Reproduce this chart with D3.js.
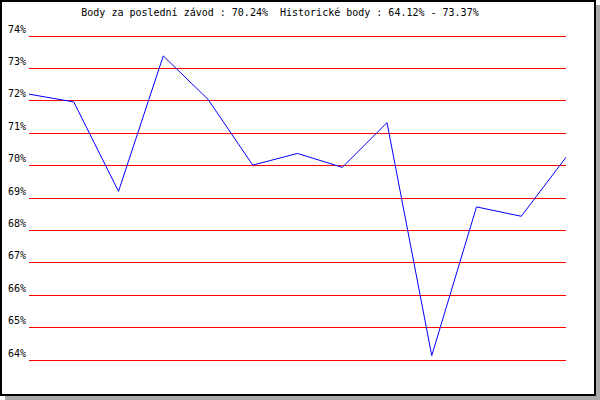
<!DOCTYPE html>
<html>
<head>
<meta charset="utf-8">
<script src="https://cdn.jsdelivr.net/npm/d3@7"></script>
<style>
  body { margin: 0; background: #fff; }
  text { font-family: "DejaVu Sans Mono", monospace; font-size: 10px; fill: #000; }
</style>
</head>
<body>
<div id="chart"></div>
<script>
// values
var races = [1, 2, 3, 4, 5, 6, 7, 8, 9, 10, 11, 12, 13];
var points = [72.19, 71.95, 69.19, 73.37, 72.03, 70.00, 70.36, 69.93, 71.31, 64.12, 68.71, 68.42, 70.24];
var yTicks = [64, 65, 66, 67, 68, 69, 70, 71, 72, 73, 74];
var title = "Body za poslední závod : 70.24%  Historické body : 64.12% - 73.37%";

var svgWidth = 600;
var svgHeight = 400;

var svg = d3.select("#chart")
  .append("svg")
  .attr("width", svgWidth)
  .attr("height", svgHeight);

// drop shadow + frame
svg.append("rect")
  .attr("x", 5).attr("y", 5)
  .attr("width", 595).attr("height", 395)
  .attr("fill", "#aaaaaa");

svg.append("rect")
  .attr("x", 1).attr("y", 1)
  .attr("width", 594).attr("height", 394)
  .attr("fill", "#fff")
  .attr("stroke", "#000")
  .attr("stroke-width", 2);

var xScale = d3.scaleLinear()
  .domain([d3.min(races), d3.max(races)])
  .range([29, 566]);

var yScale = d3.scaleLinear()
  .domain([64, 74])
  .range([359.5, 35.5]);

// grid lines with labels
var leftAxis = d3.axisLeft(yScale)
  .tickValues(yTicks)
  .tickSize(-(566 - 29))
  .tickPadding(3)
  .tickFormat(d => d + "%");

var yAxis = svg.append("g")
  .attr("transform", "translate(29,0)")
  .call(leftAxis);

yAxis.select(".domain").remove();
yAxis.selectAll("line")
  .attr("stroke", "#ff0000")
  .attr("shape-rendering", "crispEdges");
yAxis.selectAll("text")
  .attr("dy", "-0.35em")
  .attr("font-family", "DejaVu Sans Mono")
  .attr("font-size", 10);

// the points line
var line = d3.line()
  .x((d, i) => xScale(races[i]))
  .y(d => yScale(d));

svg.append("path")
  .datum(points)
  .attr("d", line)
  .attr("fill", "none")
  .attr("stroke", "#0000ff")
  .attr("stroke-width", 1);

svg.append("text")
  .attr("x", 280)
  .attr("y", 16)
  .attr("text-anchor", "middle")
  .style("white-space", "pre")
  .text(title);
</script>
</body>
</html>
